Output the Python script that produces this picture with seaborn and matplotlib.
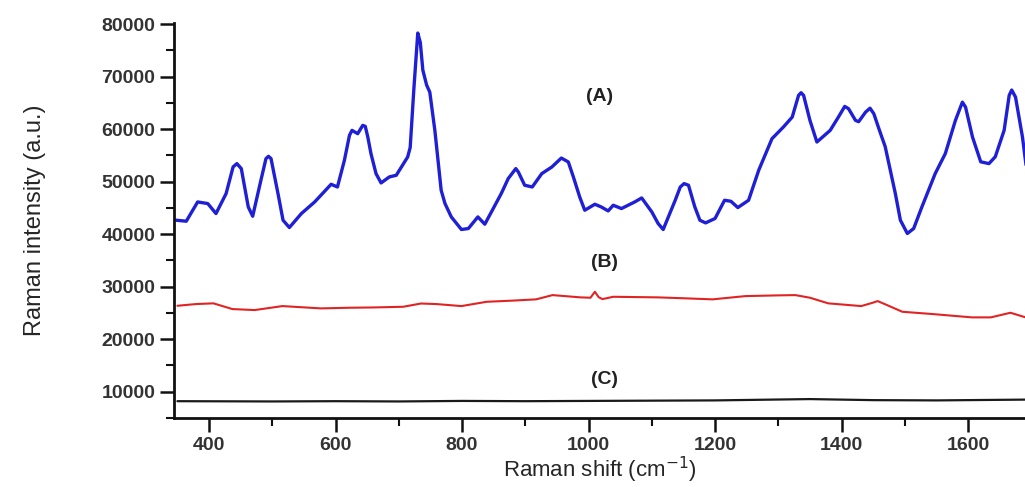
import matplotlib
matplotlib.use("Agg")
import matplotlib.pyplot as plt
import seaborn as sns
import pandas as pd
from matplotlib.ticker import MultipleLocator

# Spectrum (A) - blue
a_shift = [348, 364, 382, 398, 411, 427, 438, 444, 451, 462, 469, 482, 490, 494, 498, 509,
           517, 527, 546, 567, 593, 603, 614, 622, 626, 635, 643, 647, 651, 656, 664, 672,
           685, 696, 714, 718, 724, 730, 734, 738, 744, 749, 757, 762, 767, 773, 783, 799,
           810, 825, 836, 862, 873, 885, 889, 899, 911, 926, 942, 957, 968, 976, 986, 994,
           1010, 1020, 1031, 1039, 1052, 1073, 1084, 1100, 1110, 1118, 1137, 1145, 1151,
           1158, 1168, 1176, 1185, 1200, 1215, 1225, 1236, 1253, 1269, 1290, 1308, 1322,
           1332, 1336, 1340, 1350, 1361, 1382, 1395, 1405, 1411, 1422, 1427, 1438, 1445,
           1451, 1459, 1469, 1485, 1493, 1504, 1514, 1527, 1548, 1564, 1580, 1591, 1596,
           1607, 1620, 1633, 1643, 1657, 1665, 1669, 1675, 1686, 1694]
a_int = [42660, 42470, 46140, 45830, 43930, 47740, 52800, 53440, 52490, 45190, 43420, 50270,
         54390, 54830, 54390, 47740, 42660, 41270, 43930, 46140, 49500, 48990, 54070, 58820,
         59770, 59140, 60720, 60530, 58500, 55340, 51530, 49760, 50900, 51220, 54700, 56500,
         67990, 78300, 76500, 71250, 68390, 67050, 59770, 54070, 48360, 45840, 43290, 40890,
         41080, 43290, 41900, 47740, 50590, 52490, 51840, 49320, 48990, 51530, 52800, 54500,
         53750, 50900, 47090, 44560, 45700, 45190, 44430, 45510, 44880, 46140, 46900, 44240,
         42030, 40890, 46460, 48990, 49630, 49320, 45190, 42660, 42150, 42990, 46460, 46270,
         45070, 46460, 52170, 58190, 60400, 62300, 66430, 66940, 66430, 61670, 57550, 59770,
         62300, 64330, 63900, 61670, 61420, 63250, 63990, 62940, 60090, 56660, 47740, 42660,
         40130, 41080, 45190, 51530, 55340, 61670, 65140, 64200, 58500, 53780, 53440, 54740,
         59770, 66430, 67450, 66110, 58500, 50900]

# Spectrum (B) - red
b_shift = [350, 380, 407, 437, 472, 516, 577, 620, 660, 707, 735, 760, 799, 839, 880, 917,
           943, 987, 1003, 1010, 1016, 1022, 1039, 1109, 1150, 1196, 1248, 1300, 1327, 1350,
           1379, 1431, 1448, 1457, 1470, 1496, 1544, 1606, 1636, 1667, 1691]
b_int = [26370, 26700, 26830, 25740, 25550, 26310, 25870, 25990, 26050, 26180, 26800, 26690,
         26310, 27130, 27350, 27590, 28400, 27970, 27900, 29030, 28000, 27640, 28080, 27970,
         27800, 27590, 28210, 28350, 28400, 27900, 26830, 26310, 26900, 27260, 26600, 25230,
         24790, 24160, 24160, 25040, 24160]

# Spectrum (C) - black
c_shift = [350, 500, 600, 700, 800, 900, 1000, 1100, 1200, 1350, 1450, 1550, 1691]
c_int = [8200, 8150, 8200, 8150, 8250, 8200, 8250, 8300, 8350, 8600, 8400, 8350, 8500]

labels = ["(A)", "(B)", "(C)"]
label_x = [1017, 1025, 1025]
label_y = [66200, 34700, 12400]

df = pd.concat([
    pd.DataFrame({"shift": a_shift, "intensity": a_int, "sample": "A"}),
    pd.DataFrame({"shift": b_shift, "intensity": b_int, "sample": "B"}),
    pd.DataFrame({"shift": c_shift, "intensity": c_int, "sample": "C"}),
])

sns.set_style("ticks")
plt.rcParams["font.family"] = ["Liberation Sans", "DejaVu Sans"]

fig = plt.figure(figsize=(10.25, 4.87), dpi=100)
ax = fig.add_axes([0.170, 0.1417, 0.830, 0.812])

palette = {"A": "#1f1fd6", "B": "#e02424", "C": "#1a1a1a"}
sizes = {"A": 2.4, "B": 1.5, "C": 1.6}
for s in ["A", "B", "C"]:
    sns.lineplot(data=df[df["sample"] == s], x="shift", y="intensity", color=palette[s],
                 linewidth=sizes[s], ax=ax, legend=False, estimator=None, sort=False)

for t, x, y in zip(labels, label_x, label_y):
    ax.text(x, y, t, ha="center", va="center", fontsize=14, fontweight="bold", color="#222222")

ax.set_xlim(345, 1690)
ax.set_ylim(5000, 80300)
ax.xaxis.set_major_locator(MultipleLocator(200))
ax.xaxis.set_minor_locator(MultipleLocator(100))
ax.yaxis.set_major_locator(MultipleLocator(10000))
ax.yaxis.set_minor_locator(MultipleLocator(5000))

ax.set_xlabel("Raman shift (cm$^{-1}$)", fontsize=16, labelpad=1)
ax.set_ylabel("Raman intensity (a.u.)", fontsize=17, labelpad=40)

for side in ["top", "right"]:
    ax.spines[side].set_visible(False)
for side in ["left", "bottom"]:
    ax.spines[side].set_linewidth(2)
    ax.spines[side].set_color("#111111")

ax.tick_params(axis="both", which="major", length=10, width=1.8, direction="out",
               labelsize=14, colors="#111111", labelcolor="#333333")
ax.tick_params(axis="both", which="minor", length=6, width=1.5, direction="out", colors="#111111")
for lab in ax.get_xticklabels() + ax.get_yticklabels():
    lab.set_fontweight("bold")

fig.savefig("out.png", dpi=100)
